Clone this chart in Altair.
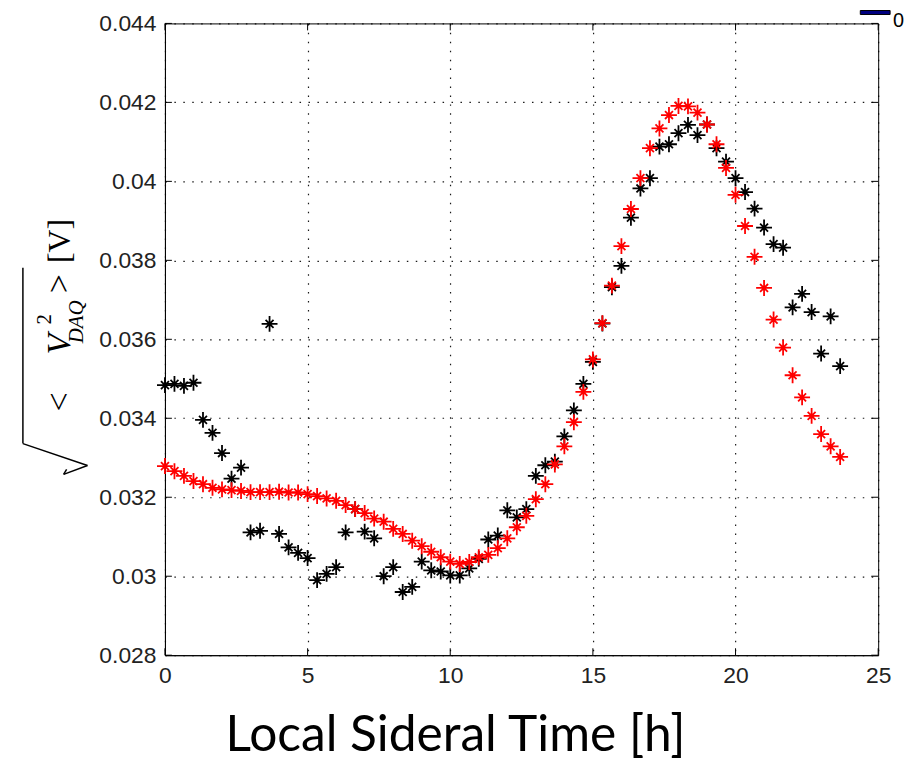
import altair as alt
import pandas as pd

# ---------------- data ----------------
hours = [round(i / 3, 4) for i in range(72)]

model_red = [
    0.03279, 0.03266, 0.03254, 0.03241, 0.03233, 0.03224, 0.03220, 0.03218,
    0.03216, 0.03213, 0.03213, 0.03213, 0.03214, 0.03212, 0.03212, 0.03208,
    0.03203, 0.03197, 0.03191, 0.03180, 0.03170, 0.03160, 0.03146, 0.03138,
    0.03120, 0.03107, 0.03090, 0.03076, 0.03062, 0.03048, 0.03037, 0.03031,
    0.03036, 0.03048, 0.03054, 0.03071, 0.03096, 0.03124, 0.03153, 0.03195,
    0.03233, 0.03283, 0.03329, 0.03390, 0.03467, 0.03549, 0.03641, 0.03736,
    0.03836, 0.03930, 0.04008, 0.04084, 0.04134, 0.04168, 0.04191, 0.04190,
    0.04174, 0.04144, 0.04094, 0.04034, 0.03966, 0.03887, 0.03809, 0.03730,
    0.03650, 0.03579, 0.03509, 0.03453, 0.03406, 0.03360, 0.03329, 0.03302,
]

measured_black = [
    0.03484, 0.03487, 0.03482, 0.03490, 0.03396, 0.03363, 0.03312, 0.03247,
    0.03275, 0.03111, 0.03115, 0.03639, 0.03107, 0.03073, 0.03059, 0.03046,
    0.02990, 0.03006, 0.03023, 0.03111, 0.03170, 0.03113, 0.03096, 0.03000,
    0.03023, 0.02960, 0.02973, 0.03037, 0.03015, 0.03012, 0.03002, 0.03002,
    0.03020, 0.03044, 0.03093, 0.03103, 0.03167, 0.03149, 0.03170, 0.03254,
    0.03281, 0.03290, 0.03354, 0.03420, 0.03487, 0.03543, 0.03640, 0.03732,
    0.03786, 0.03908, 0.03982, 0.04008, 0.04088, 0.04094, 0.04122, 0.04143,
    0.04117, 0.04144, 0.04084, 0.04050, 0.04008, 0.03973, 0.03931, 0.03883,
    0.03841, 0.03832, 0.03681, 0.03715, 0.03669, 0.03564, 0.03658, 0.03532,
]

x_ticks = [0, 5, 10, 15, 20, 25]
y_ticks = [0.028, 0.030, 0.032, 0.034, 0.036, 0.038, 0.040, 0.042, 0.044]

W, H = 718, 636

df_black = pd.DataFrame({"hour": hours, "v": measured_black})
df_red = pd.DataFrame({"hour": hours, "v": model_red})
df_xt = pd.DataFrame({"hour": x_ticks})
df_yt = pd.DataFrame({"v": y_ticks})

xscale = alt.Scale(domain=[0, 25], nice=False, zero=False)
yscale = alt.Scale(domain=[0.028, 0.044], nice=False, zero=False)

STAR = "M-1,0L1,0M0,-1L0,1M-0.5,-0.5L0.5,0.5M-0.5,0.5L0.5,-0.5"

x_axis = alt.Axis(
    values=x_ticks, title="Local Sideral Time [h]", labelPadding=9, labelFlush=False,
    titleFont="Lato", titleFontSize=50, titleFontWeight="normal",
    titleColor="black", titleX=292, titleY=96, titleAlign="center",
    titleBaseline="alphabetic",
)
y_axis = alt.Axis(values=y_ticks, title=None, format="~g", labelPadding=9, labelFlush=False)

X = alt.X("hour:Q", scale=xscale, axis=x_axis)
Y = alt.Y("v:Q", scale=yscale, axis=y_axis)

black = alt.Chart(df_black).mark_point(
    shape=STAR, filled=False, color="black", strokeWidth=1.8, size=256, opacity=1
).encode(x=X, y=Y)

red = alt.Chart(df_red).mark_point(
    shape=STAR, filled=False, color="#ff0000", strokeWidth=1.8, size=256, opacity=1
).encode(x=X, y=Y)

# inward tick marks (MATLAB style) on all four sides
tick_b = alt.Chart(df_xt).mark_rule(color="black", strokeWidth=1).encode(
    x=X, y=alt.value(H), y2=alt.value(H - 7))
tick_t = alt.Chart(df_xt).mark_rule(color="black", strokeWidth=1).encode(
    x=X, y=alt.value(0), y2=alt.value(7))
tick_l = alt.Chart(df_yt).mark_rule(color="black", strokeWidth=1).encode(
    y=Y, x=alt.value(0), x2=alt.value(7))
tick_r = alt.Chart(df_yt).mark_rule(color="black", strokeWidth=1).encode(
    y=Y, x=alt.value(W), x2=alt.value(W - 7))

one = alt.Data(values=[{}])


def txt(s, x, y, size, style="normal", align="center", font="Liberation Serif"):
    return alt.Chart(one).mark_text(
        angle=270, font=font, fontSize=size, fontStyle=style, align=align,
        baseline="alphabetic", color="black",
    ).encode(x=alt.value(x), y=alt.value(y), text=alt.value(s))


def seg(x1, y1, x2, y2, w=1.5):
    return alt.Chart(one).mark_rule(color="black", strokeWidth=w).encode(
        x=alt.value(x1), y=alt.value(y1), x2=alt.value(x2), y2=alt.value(y2))


# y-axis title: sqrt(< V^2_DAQ >) [V]
ytitle = [
    txt("<", -96, 381, 34),
    txt("V", -96, 323, 34, style="italic"),
    txt("2", -115, 303, 21, align="left"),
    txt("DAQ", -82, 322, 21, style="italic", align="left"),
    txt(">", -96, 262, 34),
    txt("[V]", -96, 219, 32),
    seg(-143, 423, -143, 246),
    seg(-143, 423, -78, 445),
    seg(-78, 445, -102, 454),
    seg(-102, 454, -99, 449),
]

corner = alt.Chart(one).mark_text(
    font="Liberation Sans", fontSize=20, align="left", baseline="alphabetic", color="black"
).encode(x=alt.value(733), y=alt.value(4), text=alt.value("0"))

corner_box = alt.Chart(one).mark_rect(color="#000080", stroke="black", strokeWidth=1).encode(
    x=alt.value(700), x2=alt.value(730), y=alt.value(-13), y2=alt.value(-9))

chart = alt.layer(
    tick_b, tick_t, tick_l, tick_r, black, red, *ytitle, corner, corner_box
).properties(
    width=W, height=H,
    autosize=alt.AutoSizeParams(type="none"),
    padding={"left": 158, "top": 13, "right": 27, "bottom": 105},
).configure_view(
    stroke="black", strokeWidth=1
).configure_axis(
    domainColor="black", domainWidth=1, tickSize=0,
    grid=True, gridColor="black", gridDash=[1.5, 7.5], gridWidth=1.2, gridOpacity=0.9,
    labelFont="Liberation Sans", labelFontSize=23, labelColor="#222222",
)

chart.save("out.html", embed_options={"renderer": "svg", "actions": False})
